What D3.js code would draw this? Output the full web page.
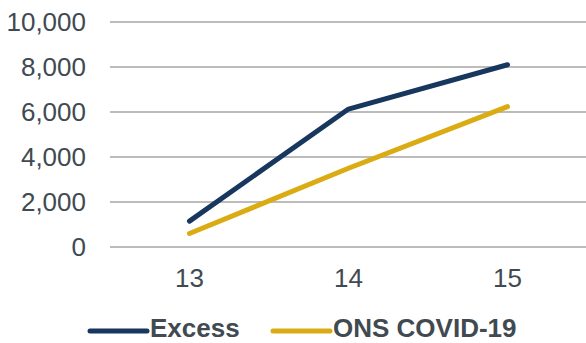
<!DOCTYPE html>
<html>
<head>
<meta charset="utf-8">
<script src="https://cdn.jsdelivr.net/npm/d3@7"></script>
<style>
  body { margin: 0; background: #fff; }
  text { font-family: 'Liberation Sans', Arial, sans-serif; fill: #404a50; }
</style>
</head>
<body>
<div id="chart"></div>
<script>
let weeks = ['13', '14', '15']
let excess = [1150, 6130, 8100]
let onsCovid = [600, 3500, 6240]
let yTicks = [0, 2000, 4000, 6000, 8000, 10000]
let seriesNames = ['Excess', 'ONS COVID-19']
let seriesColors = ['#17375e', '#dbab14']

let width = 586
let height = 343

let svg = d3
  .select('#chart')
  .append('svg')
  .attr('width', width)
  .attr('height', height)

let x = d3.scalePoint().domain(weeks).range([110, 587]).padding(0.5)
let y = d3.scaleLinear().domain([0, 10000]).range([247, 22])

// gridlines
svg
  .selectAll('.grid')
  .data(yTicks)
  .enter()
  .append('line')
  .attr('class', 'grid')
  .attr('x1', 110)
  .attr('x2', width)
  .attr('y1', d => y(d))
  .attr('y2', d => y(d))
  .attr('stroke', '#a6a6a6')
  .attr('stroke-width', 1.3)

// y labels
svg
  .selectAll('.ylabel')
  .data(yTicks)
  .enter()
  .append('text')
  .attr('class', 'ylabel')
  .attr('x', 86)
  .attr('y', d => y(d) + 9)
  .attr('text-anchor', 'end')
  .attr('font-size', 26)
  .text(d => d3.format(',')(d))

// x labels
svg
  .selectAll('.xlabel')
  .data(weeks)
  .enter()
  .append('text')
  .attr('class', 'xlabel')
  .attr('x', d => x(d))
  .attr('y', 287)
  .attr('text-anchor', 'middle')
  .attr('font-size', 26)
  .text(d => d)

let line = d3
  .line()
  .x((d, i) => x(weeks[i]))
  .y(d => y(d))

let series = [excess, onsCovid]

svg
  .selectAll('.series')
  .data(series)
  .enter()
  .append('path')
  .attr('class', 'series')
  .attr('d', d => line(d))
  .attr('fill', 'none')
  .attr('stroke', (d, i) => seriesColors[i])
  .attr('stroke-width', 5)
  .attr('stroke-linecap', 'round')
  .attr('stroke-linejoin', 'round')

// legend
let legendX = [90, 273]
let legend = svg
  .selectAll('.legend-entry')
  .data(seriesNames)
  .enter()
  .append('g')
  .attr('class', 'legend-entry')
  .attr('transform', (d, i) => `translate(${legendX[i]},331)`)

legend
  .append('line')
  .attr('x1', 0)
  .attr('x2', 57)
  .attr('stroke', (d, i) => seriesColors[i])
  .attr('stroke-width', 5)
  .attr('stroke-linecap', 'round')

legend
  .append('text')
  .attr('x', 60)
  .attr('y', 6)
  .attr('font-size', 26)
  .attr('font-weight', 'bold')
  .text(d => d)
</script>
</body>
</html>
